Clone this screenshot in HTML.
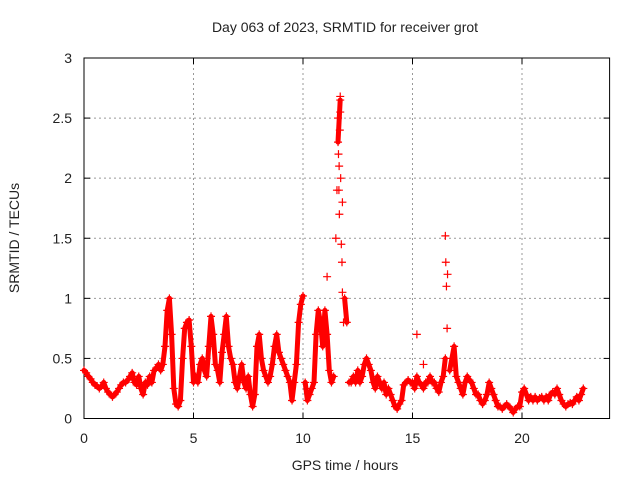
<!DOCTYPE html>
<html><head><meta charset="utf-8"><style>
body{margin:0;background:#fff}
svg text{font-family:"Liberation Sans",sans-serif;font-size:14px;fill:#222}
</style></head><body>
<svg width="640" height="480" viewBox="0 0 640 480">
<g id="grid"></g>
<rect x="84" y="58" width="525.6" height="360.5" fill="none" stroke="#000" stroke-width="1"/>
<g id="ticks"></g>
<g id="marks"></g>
<text x="345" y="32" text-anchor="middle">Day 063 of 2023, SRMTID for receiver grot</text>
<text x="345" y="470" text-anchor="middle">GPS time / hours</text>
<text x="19" y="238" text-anchor="middle" transform="rotate(-90 19 238)">SRMTID / TECUs</text>
</svg>
<script>
const xTicks=[0,5,10,15,20];
const yTicks=[0,0.5,1,1.5,2,2.5,3];
const yTickLabels=["0","0.5","1","1.5","2","2.5","3"];
const startHour=0, stepHour=0.1;
const values=[
0.4,0.38,0.35,0.33,0.3,0.28,0.27,0.25,0.27,0.3,
0.25,0.22,0.2,0.18,0.2,0.22,0.25,0.28,0.3,0.3,
0.32,0.35,0.38,0.3,0.28,0.35,0.25,0.2,0.3,0.28,
0.35,0.3,0.4,0.42,0.45,0.4,0.45,0.6,0.9,1.0,
0.7,0.25,0.12,0.1,0.15,0.5,0.75,0.8,0.82,0.6,
0.3,0.35,0.3,0.45,0.5,0.4,0.35,0.6,0.85,0.7,
0.45,0.4,0.3,0.55,0.7,0.85,0.6,0.5,0.45,0.3,
0.25,0.35,0.45,0.3,0.25,0.35,0.2,0.1,0.2,0.6,
0.7,0.5,0.4,0.35,0.3,0.35,0.45,0.6,0.7,0.55,
0.5,0.45,0.4,0.35,0.3,0.15,0.3,0.45,0.8,0.95,
1.02,0.3,0.15,0.2,0.25,0.3,0.7,0.9,0.8,0.6,
0.9,0.7,0.4,0.3,0.35,1.5,2.3,2.65,1.8,1.0,
0.8,0.3,0.3,0.35,0.3,0.4,0.3,0.35,0.45,0.5,
0.45,0.4,0.3,0.25,0.35,0.3,0.25,0.3,0.2,0.25,
0.2,0.15,0.1,0.08,0.12,0.15,0.28,0.3,0.32,0.3,
0.3,0.25,0.35,0.3,0.28,0.25,0.3,0.3,0.35,0.3,
0.3,0.25,0.22,0.3,0.35,0.5,1.2,0.4,0.5,0.6,
0.35,0.3,0.25,0.2,0.3,0.35,0.32,0.3,0.25,0.2,
0.2,0.15,0.12,0.15,0.2,0.3,0.25,0.2,0.15,0.1,
0.1,0.08,0.1,0.12,0.1,0.08,0.05,0.08,0.1,0.1,
0.22,0.25,0.2,0.15,0.18,0.15,0.18,0.15,0.17,0.18,
0.15,0.18,0.15,0.2,0.22,0.2,0.25,0.2,0.15,0.12,
0.1,0.12,0.13,0.12,0.15,0.18,0.15,0.2,0.25];
const extraTimes=[11.55,11.6,11.62,11.64,11.66,11.68,11.7,11.72,11.75,11.78,11.8,11.85,16.5,16.52,16.55,16.58,15.2,15.5,11.1,11.65,11.7];
const extraValues=[1.9,2.5,2.2,1.9,1.7,2.4,2.68,2.0,1.45,1.3,1.05,0.8,1.52,1.3,1.1,0.75,0.7,0.45,1.18,2.1,2.55];
const X0=84,X1=609.6,Y0=418.5,Y1=58, xMax=24, yMax=3;
const xs=h=>X0+(X1-X0)*h/xMax;
const ys=v=>Y0-(Y0-Y1)*v/yMax;
const NS="http://www.w3.org/2000/svg";
const grid=document.getElementById('grid'),ticks=document.getElementById('ticks'),marks=document.getElementById('marks');
function mk(tag,attrs,parent){const e=document.createElementNS(NS,tag);for(const k in attrs)e.setAttribute(k,attrs[k]);parent.appendChild(e);return e;}
xTicks.forEach(t=>{
  const x=xs(t);
  if(t>0){const g=mk('line',{x1:x,x2:x,y1:Y1,y2:Y0,stroke:'#999','stroke-dasharray':'2,3'},grid);
  
  }
  mk('line',{x1:x,x2:x,y1:Y0,y2:Y0-6,stroke:'#000'},ticks);
  mk('line',{x1:x,x2:x,y1:Y1,y2:Y1+6,stroke:'#000'},ticks);
  const tx=mk('text',{x:x,y:443,'text-anchor':'middle'},ticks);tx.textContent=t;
  
  
});
yTicks.forEach((t,i)=>{
  const y=ys(t);
  if(t>0&&t<3){const g=mk('line',{x1:X0,x2:X1,y1:y,y2:y,stroke:'#999','stroke-dasharray':'2,3'},grid);
  
  }
  mk('line',{x1:X0,x2:X0+6,y1:y,y2:y,stroke:'#000'},ticks);
  mk('line',{x1:X1,x2:X1-6,y1:y,y2:y,stroke:'#000'},ticks);
  const tx=mk('text',{x:72,y:y+5,'text-anchor':'end'},ticks);tx.textContent=yTickLabels[i];
  
  
});
let d='';
values.forEach((v,i)=>{
  const x=xs(startHour+i*stepHour).toFixed(1), y=ys(v).toFixed(1);
  if(i===0||Math.abs(v-values[i-1])>0.45) d+=`M${x},${y}`; else d+=`L${x},${y}`;
});
const pl=mk('path',{d:d,fill:'none',stroke:'#f00','stroke-width':5,'stroke-linejoin':'round','stroke-linecap':'round'},marks);


function plus(x,y){
  const p=mk('path',{d:`M${x-4},${y}h8M${x},${y-4}v8`,stroke:'#f00','stroke-width':1.2},marks);
  
  
}
values.forEach((v,i)=>plus(xs(startHour+i*stepHour),ys(v)));
extraTimes.forEach((t,i)=>plus(xs(t),ys(extraValues[i])));
</script>
</body></html>
